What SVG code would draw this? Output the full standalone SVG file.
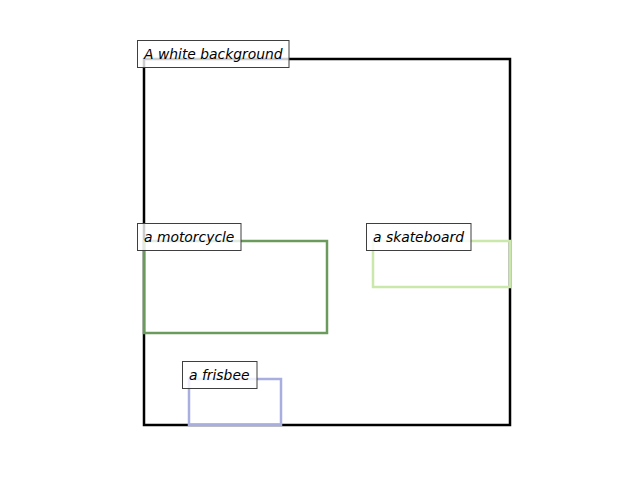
<svg xmlns="http://www.w3.org/2000/svg" width="640" height="480" viewBox="0 0 640 480">
<style>
.box{fill:none;stroke-width:2.5;stroke-linejoin:miter}
.lbl rect{fill:#ffffff;fill-opacity:0.8;stroke:#3f3f3f;stroke-width:1}
.lbl text{font-family:"DejaVu Sans",sans-serif;font-style:oblique;font-size:13.89px;fill:#000}
</style>
<rect width="640" height="480" fill="#ffffff"/>
<g id="background">
<rect class="box" x="144" y="59" width="366" height="366" stroke="#000000" stroke-width="2.2"/>
</g>
<g id="motorcycle">
<rect class="box" x="144" y="241" width="183" height="92" stroke="#6b9b5c"/>
</g>
<g id="skateboard">
<rect class="box" x="373" y="241" width="137" height="46" stroke="#cbe8ab"/>
</g>
<g id="frisbee">
<rect class="box" x="189" y="379" width="92" height="46" stroke="#a9aee0"/>
</g>
<g id="label-background" class="lbl">
<rect x="137.5" y="40.5" width="151.5" height="27"/>
<text x="144" y="58.5">A white background</text>
</g>
<g id="label-motorcycle" class="lbl">
<rect x="137.5" y="223.5" width="103.5" height="27"/>
<text x="144" y="241.5">a motorcycle</text>
</g>
<g id="label-skateboard" class="lbl">
<rect x="366.5" y="223.5" width="104.5" height="27"/>
<text x="373" y="241.5">a skateboard</text>
</g>
<g id="label-frisbee" class="lbl">
<rect x="182.5" y="361.5" width="74.5" height="27"/>
<text x="189" y="379.5">a frisbee</text>
</g>
</svg>
